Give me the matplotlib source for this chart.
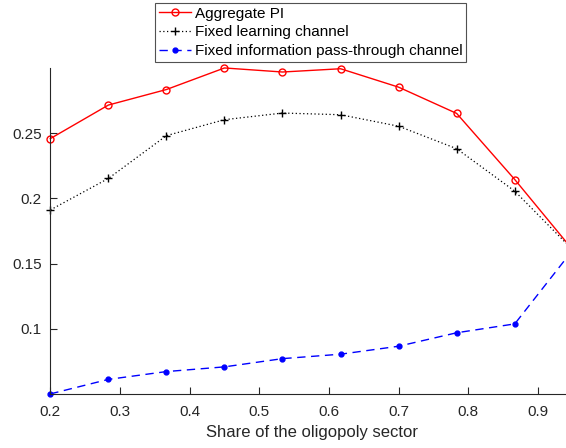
import matplotlib
matplotlib.use("Agg")
import matplotlib.pyplot as plt

share = [0.2, 0.2833, 0.3667, 0.45, 0.5333, 0.6167, 0.7, 0.7833, 0.8667, 0.95]
aggregate_pi = [0.2457, 0.2714, 0.2833, 0.2998, 0.2967, 0.2992, 0.2851, 0.2650, 0.2144, 0.1605]
fixed_learning = [0.1911, 0.2152, 0.2480, 0.2602, 0.2653, 0.2640, 0.2552, 0.2380, 0.2055, 0.1605]
fixed_passthrough = [0.0503, 0.0614, 0.0674, 0.0710, 0.0773, 0.0807, 0.0868, 0.0971, 0.1039, 0.1605]

xticks = [0.2, 0.3, 0.4, 0.5, 0.6, 0.7, 0.8, 0.9]
yticks = [0.1, 0.15, 0.2, 0.25]
ytick_labels = ["0.1", "0.15", "0.2", "0.25"]

plt.rcParams['font.family'] = ['Liberation Sans', 'DejaVu Sans']
text_color = '#262626'

W, H = 566, 448
fig = plt.figure(figsize=(W / 100, H / 100), dpi=100)
left_px, bottom_px, top_px = 50.3, 394.3, 67.7
width_px = 522.5
ax = fig.add_axes([left_px / W, (H - bottom_px) / H, width_px / W, (bottom_px - top_px) / H])

ax.plot(share, aggregate_pi, color='red', lw=1.0, marker='o', markersize=5,
        markerfacecolor='none', markeredgewidth=1.0, label='Aggregate PI', clip_on=False)
ax.plot(share, fixed_learning, color='black', lw=0.9, ls=(0, (1, 2)), marker='+', markersize=6,
        markeredgewidth=1.0, label='Fixed learning channel', clip_on=False)
ax.plot(share, fixed_passthrough, color='blue', lw=1.0, ls=(0, (6, 4)), marker='.', markersize=7,
        label='Fixed information pass-through channel', clip_on=False)

ax.set_xlim(0.2, 0.95)
ax.set_ylim(0.05, 0.3)
ax.set_xticks(xticks)
ax.set_xticklabels([f"{t:g}" for t in xticks])
ax.set_yticks(yticks)
ax.set_yticklabels(ytick_labels)
for s in ['top', 'right']:
    ax.spines[s].set_visible(False)
for s in ['left', 'bottom']:
    ax.spines[s].set_color(text_color)
    ax.spines[s].set_linewidth(0.8)
ax.tick_params(direction='in', length=5, width=0.8, colors=text_color, labelsize=11)
ax.tick_params(axis='x', pad=8)
ax.tick_params(axis='y', pad=6)
ax.set_xlabel('Share of the oligopoly sector', fontsize=12, color=text_color, labelpad=4)

leg = fig.legend(loc='upper left', bbox_to_anchor=(155 / W, 1 - 3 / H), fontsize=11,
                 frameon=True, fancybox=False, edgecolor=text_color, handlelength=2.1,
                 handletextpad=0.25, borderpad=0.25, labelspacing=0.3, borderaxespad=0)
leg.get_frame().set_linewidth(0.8)
for t in leg.get_texts():
    t.set_color('black')

fig.savefig('out.png', dpi=100)
